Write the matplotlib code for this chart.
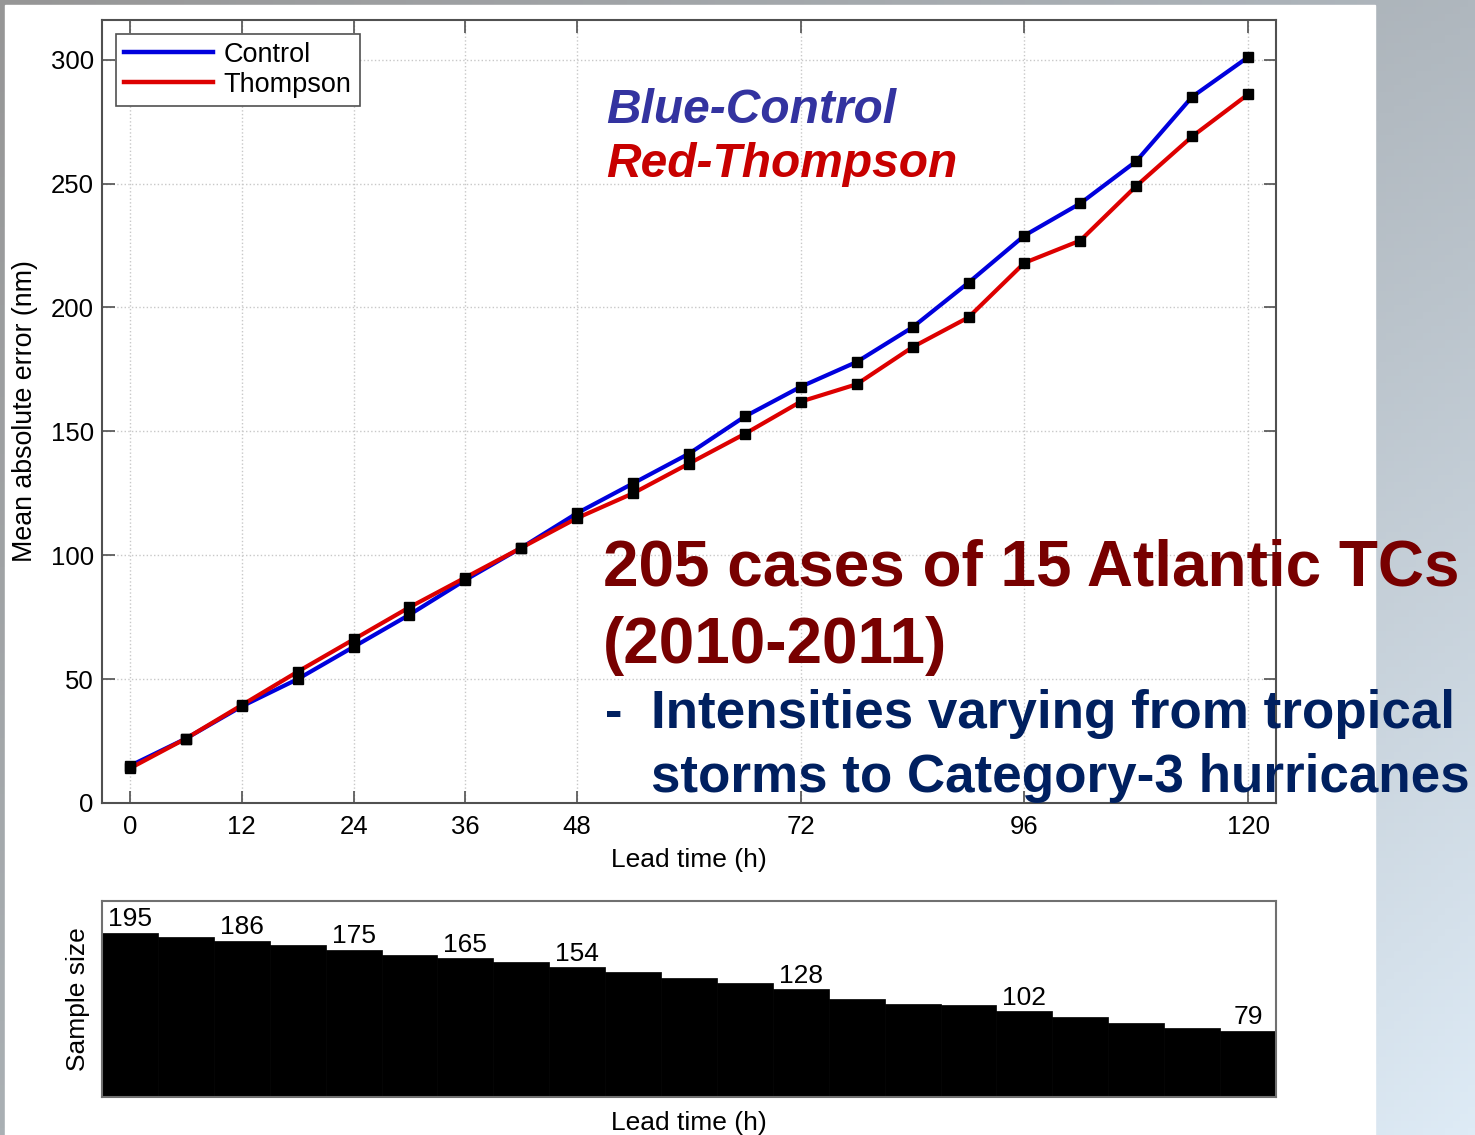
import numpy as np
import matplotlib
matplotlib.use("Agg")
import matplotlib.pyplot as plt
from matplotlib.patches import Rectangle

plt.rcParams['font.family'] = ['Liberation Sans', 'DejaVu Sans']

# lead times (h) and mean absolute track error (nm)
lead = [0, 6, 12, 18, 24, 30, 36, 42, 48, 54, 60, 66, 72, 78, 84, 90, 96, 102, 108, 114, 120]
control = [15, 26, 39, 50, 63, 76, 90, 103, 117, 129, 141, 156, 168, 178, 192, 210, 229, 242, 259, 285, 301]
thompson = [14, 26, 39.5, 53, 66, 79, 91, 103, 115, 125, 137, 149, 162, 169, 184, 196, 218, 227, 249, 269, 286]

# sample size at each lead time
sample = [195, 190, 186, 181, 175, 169, 165, 160, 154, 149, 142, 135, 128, 117, 110, 109, 102, 95, 88, 82, 79]
sample_labelled = [0, 12, 24, 36, 48, 72, 96, 120]

xticks = [0, 12, 24, 36, 48, 72, 96, 120]
yticks = [0, 50, 100, 150, 200, 250, 300]

W, H = 1475, 1135
fig = plt.figure(figsize=(W / 100, H / 100), dpi=100)

# slide background: gray-blue gradient frame with white body
bg = fig.add_axes([0, 0, 1, 1], zorder=-10)
tl, tr = np.array([150, 150, 150]), np.array([175, 183, 190])
bl, br = np.array([170, 176, 180]), np.array([222, 235, 246])
u = np.linspace(0, 1, 200)[None, :, None]
v = np.linspace(0, 1, 160)[:, None, None]
grad = (1 - v) * ((1 - u) * tl + u * tr) + v * ((1 - u) * bl + u * br)
bg.imshow(grad / 255.0, aspect='auto', extent=[0, 1, 0, 1])
bg.add_patch(Rectangle((5 / W, 0), (1375 - 5) / W, (H - 5) / H, color='white'))
bg.set_xlim(0, 1)
bg.set_ylim(0, 1)
bg.axis('off')

spine_col = '#505050'

# main panel
ax = fig.add_axes([102 / W, 332 / H, 1174 / W, 783 / H])
ax.plot(lead, control, color='#0000DD', lw=3, label='Control', zorder=3)
ax.plot(lead, thompson, color='#DD0000', lw=3, label='Thompson', zorder=4)
ax.plot(lead, control, 's', color='black', ms=6.5, zorder=5)
ax.plot(lead, thompson, 's', color='black', ms=6.5, zorder=5)
ax.set_xlim(-3, 123)
ax.set_ylim(0, 316)
ax.set_xticks(xticks)
ax.set_yticks(yticks)
ax.grid(True, linestyle=':', color='#c8c8c8', lw=1)
ax.tick_params(direction='in', length=9, width=1.2, color=spine_col,
               top=True, right=True, labelsize=18.5)
ax.tick_params(axis='x', pad=9)
ax.tick_params(axis='y', pad=6)
for s in ax.spines.values():
    s.set_color(spine_col)
    s.set_linewidth(1.5)
ax.set_xlabel('Lead time (h)', fontsize=19, labelpad=6)
ax.set_ylabel('Mean absolute error (nm)', fontsize=19.3, labelpad=9)
leg = ax.legend(loc='upper left', fontsize=19.5, handlelength=3.3, fancybox=False,
                edgecolor=spine_col, framealpha=1, borderaxespad=0.5,
                handletextpad=0.4, labelspacing=0.15, borderpad=0.3)
leg.get_frame().set_linewidth(1.2)
for line in leg.get_lines():
    line.set_linewidth(3.2)

# sample size panel
ax2 = fig.add_axes([102 / W, 38 / H, 1174 / W, 196 / H])
ax2.bar(lead, sample, width=6, color='black', edgecolor='black', lw=0.5)
for x, n in zip(lead, sample):
    if x in sample_labelled:
        ax2.text(x, n + 2, str(n), ha='center', va='bottom', fontsize=19)
ax2.set_xlim(-3, 123)
ax2.set_ylim(0, 233)
ax2.set_xticks([])
ax2.set_yticks([])
for s in ax2.spines.values():
    s.set_color('#707070')
    s.set_linewidth(1.5)
ax2.set_xlabel('Lead time (h)', fontsize=19, labelpad=10)
ax2.set_ylabel('Sample size', fontsize=19, labelpad=9)

# slide annotations
def ftext(x, y, s, **kw):
    fig.text(x / W, 1 - y / H, s, va='baseline', ha='left', **kw)

ftext(606, 123, 'Blue-Control', fontsize=34.5, fontweight='bold', style='italic', color='#3333A0')
ftext(606, 177, 'Red-Thompson', fontsize=34.5, fontweight='bold', style='italic', color='#C80000')
ftext(603, 586, '205 cases of 15 Atlantic TCs', fontsize=46, fontweight='bold', color='#780000')
ftext(603, 663, '(2010-2011)', fontsize=46, fontweight='bold', color='#780000')
ftext(605, 728, '-', fontsize=38, fontweight='bold', color='#002060')
ftext(651, 728, 'Intensities varying from tropical', fontsize=38.2, fontweight='bold', color='#002060')
ftext(651, 792, 'storms to Category-3 hurricanes', fontsize=38.2, fontweight='bold', color='#002060')

fig.savefig('out.png', dpi=100)
